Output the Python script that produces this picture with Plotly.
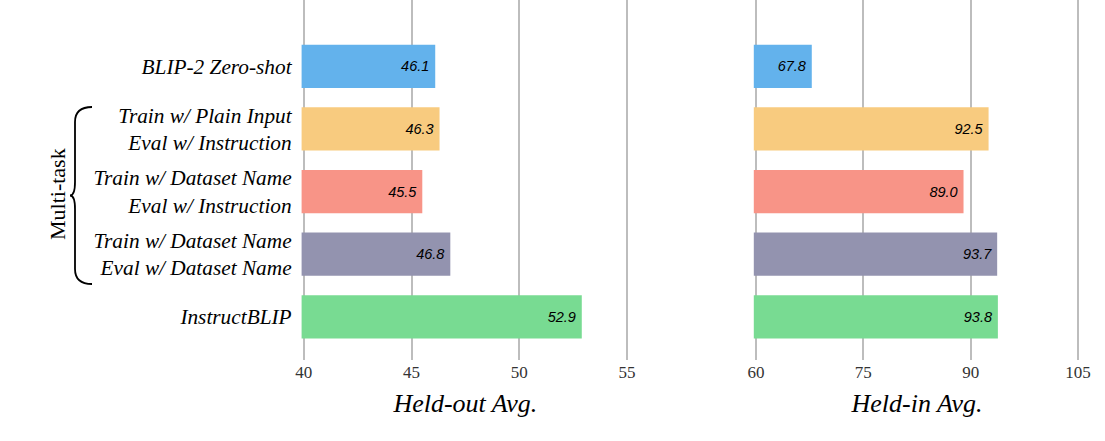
import plotly.graph_objects as go

categories = [
    "<i>BLIP-2 Zero-shot</i>",
    "<i>Train w/ Plain Input</i><br><i>Eval w/ Instruction</i>",
    "<i>Train w/ Dataset Name</i><br><i>Eval w/ Instruction</i>",
    "<i>Train w/ Dataset Name</i><br><i>Eval w/ Dataset Name</i>",
    "<i>InstructBLIP</i>",
]
held_out = [46.1, 46.3, 45.5, 46.8, 52.9]
held_in = [67.8, 92.5, 89.0, 93.7, 93.8]
held_out_ticks = [40, 45, 50, 55]
held_in_ticks = [60, 75, 90, 105]
colors = ["#63B2EC", "#F8CB7F", "#F89487", "#9393AF", "#78DB92"]

W, H = 1105, 441
B = 81
PH = H - B


def px(x):
    return x / W


def py(y):
    return (PH - y) / PH


fig = go.Figure()
fig.add_trace(go.Bar(
    y=categories, x=held_out, orientation="h", marker_color=colors,
    marker_line_width=0, width=0.69,
    text=[f"<i>{v:.1f}</i>\u2009" for v in held_out], textposition="inside",
    insidetextanchor="end",
    textfont=dict(family="Liberation Sans, Arial", size=14.5, color="black"),
    xaxis="x", yaxis="y", showlegend=False,
))
fig.add_trace(go.Bar(
    y=categories, x=held_in, orientation="h", marker_color=colors,
    marker_line_width=0, width=0.69,
    text=[f"<i>{v:.1f}</i>\u2009" for v in held_in], textposition="inside",
    insidetextanchor="end",
    textfont=dict(family="Liberation Sans, Arial", size=14.5, color="black"),
    xaxis="x2", yaxis="y2", showlegend=False,
))

yrange = [4.69, -1.06]
serif = "Liberation Serif, Times New Roman, serif"
grid = dict(showgrid=True, gridcolor="#BDBDBD", gridwidth=2, zeroline=False,
            showline=False, ticks="", automargin=False,
            tickfont=dict(family=serif, size=17, color="#333"))
fig.update_layout(
    width=W, height=H, autosize=False,
    margin=dict(l=0, r=0, t=0, b=B, pad=0),
    paper_bgcolor="white", plot_bgcolor="white",
    xaxis=dict(domain=[px(301.6), px(629.2)], range=[39.9, 55.1], tickvals=held_out_ticks,
               title=dict(text="<i>Held-out Avg.</i>", standoff=12,
                          font=dict(family=serif, size=26, color="black")),
               anchor="y", **grid),
    xaxis2=dict(domain=[px(753.8), px(1080.2)], range=[59.7, 105.3], tickvals=held_in_ticks,
                title=dict(text="<i>Held-in Avg.</i>", standoff=12,
                           font=dict(family=serif, size=26, color="black")),
                anchor="y2", **grid),
    yaxis=dict(type="category", categoryorder="array", categoryarray=categories,
               range=yrange, showgrid=False, zeroline=False, ticks="", automargin=False,
               ticklabelstandoff=9, anchor="x",
               tickfont=dict(family=serif, size=21.3, color="black")),
    yaxis2=dict(type="category", categoryorder="array", categoryarray=categories,
                range=yrange, showgrid=False, zeroline=False, ticks="", automargin=False,
                showticklabels=False, anchor="x2"),
)

# Multi-task brace
brace = (f"M {px(92)},{py(107)} Q {px(75)},{py(107)} {px(75)},{py(122)} "
         f"L {px(75)},{py(182)} Q {px(75)},{py(195.5)} {px(70)},{py(195.5)} "
         f"Q {px(75)},{py(195.5)} {px(75)},{py(209)} "
         f"L {px(75)},{py(269)} Q {px(75)},{py(284)} {px(92)},{py(284)}")
fig.add_shape(type="path", path=brace, xref="paper", yref="paper",
              line=dict(color="black", width=1.8))
fig.add_annotation(text="Multi-task", x=px(57), y=py(194), xref="paper", yref="paper",
                   textangle=-90, showarrow=False, xanchor="center", yanchor="middle",
                   font=dict(family=serif, size=22, color="black"))

fig.write_html("out.html")
